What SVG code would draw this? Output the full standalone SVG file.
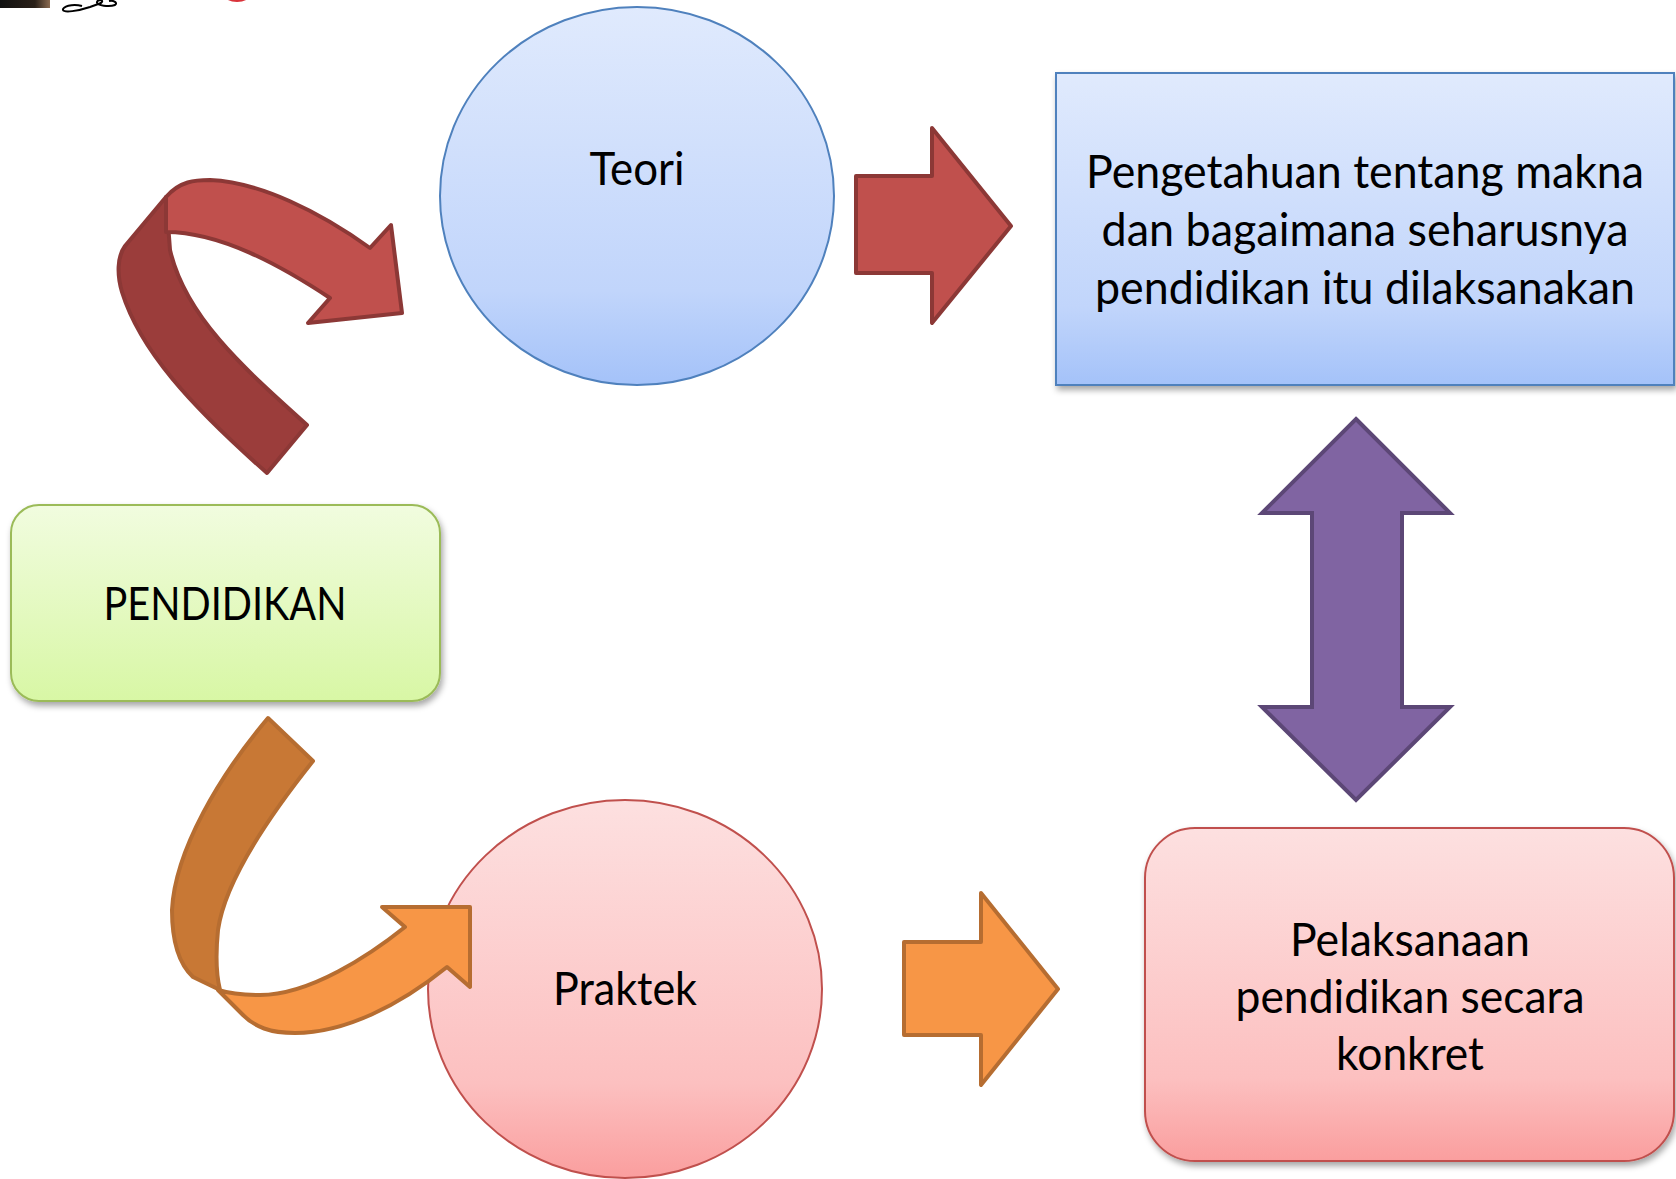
<svg xmlns="http://www.w3.org/2000/svg" width="1676" height="1179" viewBox="0 0 1676 1179">
<style>
.t{font-family:"Lato","Open Sans","Liberation Sans",sans-serif;font-size:46px;fill:#000;text-anchor:middle}
.rl{fill:#c0504d;stroke:#8c3836;stroke-width:4;stroke-linejoin:round}
.rd{fill:#9b3d3b;stroke:#8c3836;stroke-width:4;stroke-linejoin:round}
.ol{fill:#f79646;stroke:#b66d31;stroke-width:4;stroke-linejoin:round}
.od{fill:#c87835;stroke:#b66d31;stroke-width:4;stroke-linejoin:round}
.pu{fill:#8064a2;stroke:#5c4776;stroke-width:4;stroke-linejoin:miter}
</style>
<defs>
<linearGradient id="gb" x1="0" y1="0" x2="0" y2="1"><stop offset="0" stop-color="#e0eafd"/><stop offset="0.75" stop-color="#c1d5fb"/><stop offset="1" stop-color="#a4c2f9"/></linearGradient>
<linearGradient id="gp" x1="0" y1="0" x2="0" y2="1"><stop offset="0" stop-color="#fde0e0"/><stop offset="0.75" stop-color="#fcc0c0"/><stop offset="1" stop-color="#fa9e9e"/></linearGradient>
<linearGradient id="gg" x1="0" y1="0" x2="0" y2="1"><stop offset="0" stop-color="#f1fcdf"/><stop offset="1" stop-color="#d8f7a5"/></linearGradient>
<linearGradient id="gk" x1="0" y1="0" x2="1" y2="0"><stop offset="0" stop-color="#111"/><stop offset="0.7" stop-color="#2a2018"/><stop offset="1" stop-color="#8a6a50"/></linearGradient>
<filter id="sh" x="-10%" y="-10%" width="120%" height="130%"><feDropShadow dx="2" dy="4" stdDeviation="3" flood-color="#000" flood-opacity="0.35"/></filter>
</defs>

<g id="corner-bits">
<rect x="0" y="0" width="50" height="8" fill="url(#gk)"/>
<path d="M82,6 C72,3 62,7 63,10 C64,13 78,11 90,7 L101,3 C105,0 98,-1 97,2 C96,6 110,7 115,5 C118,3 114,0 109,1" fill="none" stroke="#000" stroke-width="2"/>
<ellipse cx="237" cy="-5" rx="13" ry="7" fill="#d9333a"/>
</g>

<g id="teori">
<ellipse cx="637" cy="196" rx="197" ry="189" fill="url(#gb)" stroke="#4f81bd" stroke-width="2"/>
<text class="t" x="637" y="185" textLength="95" lengthAdjust="spacingAndGlyphs">Teori</text>
</g>

<g id="praktek">
<ellipse cx="625" cy="989" rx="197" ry="189" fill="url(#gp)" stroke="#c0504d" stroke-width="2"/>
<text class="t" x="625" y="1005" textLength="144" lengthAdjust="spacingAndGlyphs">Praktek</text>
</g>

<g id="pendidikan">
<rect x="11" y="505" width="429" height="196" rx="28" fill="url(#gg)" stroke="#9bbb59" stroke-width="2" filter="url(#sh)"/>
<text class="t" x="225" y="620" textLength="243" lengthAdjust="spacingAndGlyphs">PENDIDIKAN</text>
</g>

<g id="pengetahuan">
<rect x="1056" y="73" width="618" height="312" fill="url(#gb)" stroke="#4f81bd" stroke-width="2" filter="url(#sh)"/>
<text class="t" x="1365" y="188" textLength="558" lengthAdjust="spacingAndGlyphs">Pengetahuan tentang makna</text>
<text class="t" x="1365" y="246" textLength="527" lengthAdjust="spacingAndGlyphs">dan bagaimana seharusnya</text>
<text class="t" x="1365" y="304" textLength="540" lengthAdjust="spacingAndGlyphs">pendidikan itu dilaksanakan</text>
</g>

<g id="pelaksanaan">
<rect x="1145" y="828" width="529" height="333" rx="50" fill="url(#gp)" stroke="#c0504d" stroke-width="2" filter="url(#sh)"/>
<text class="t" x="1410" y="956" textLength="240" lengthAdjust="spacingAndGlyphs">Pelaksanaan</text>
<text class="t" x="1410" y="1013" textLength="349" lengthAdjust="spacingAndGlyphs">pendidikan secara</text>
<text class="t" x="1410" y="1070" textLength="148" lengthAdjust="spacingAndGlyphs">konkret</text>
</g>

<g id="connectors">
<path class="rd" d="M166,197 L125,246 C117,257 117,275 122,292 C140,350 190,405 267,473 L307,425 C240,365 185,315 170,250 Z"/>
<path class="rl" d="M166,197 C180,181 195,180 210,180 C260,182 320,212 370,248 L391,225 L402,313 L308,323 L330,298 C280,265 220,232 166,232 Z"/>
<path class="od" d="M268,718 L313,761 C270,815 225,880 218,930 C215,960 217,978 220,990 L193,977 C180,965 172,945 172,910 C175,850 220,775 268,718 Z"/>
<path class="ol" d="M218,990 L243,1015 C255,1027 270,1033 295,1033 C345,1033 400,1005 447,967 L470,987 L470,907 L382,907 L405,927 C370,955 310,995 260,995 C240,995 228,993 218,990 Z"/>
<path class="rl" d="M856,176 L932,176 L932,128 L1011,226 L932,323 L932,273 L856,273 Z"/>
<path class="ol" d="M904,942 L981,942 L981,893 L1058,989 L981,1085 L981,1035 L904,1035 Z"/>
<path class="pu" d="M1356,419 L1450,513 L1402,513 L1402,707 L1450,707 L1356,800 L1262,707 L1312,707 L1312,513 L1262,513 Z"/>
</g>
</svg>
